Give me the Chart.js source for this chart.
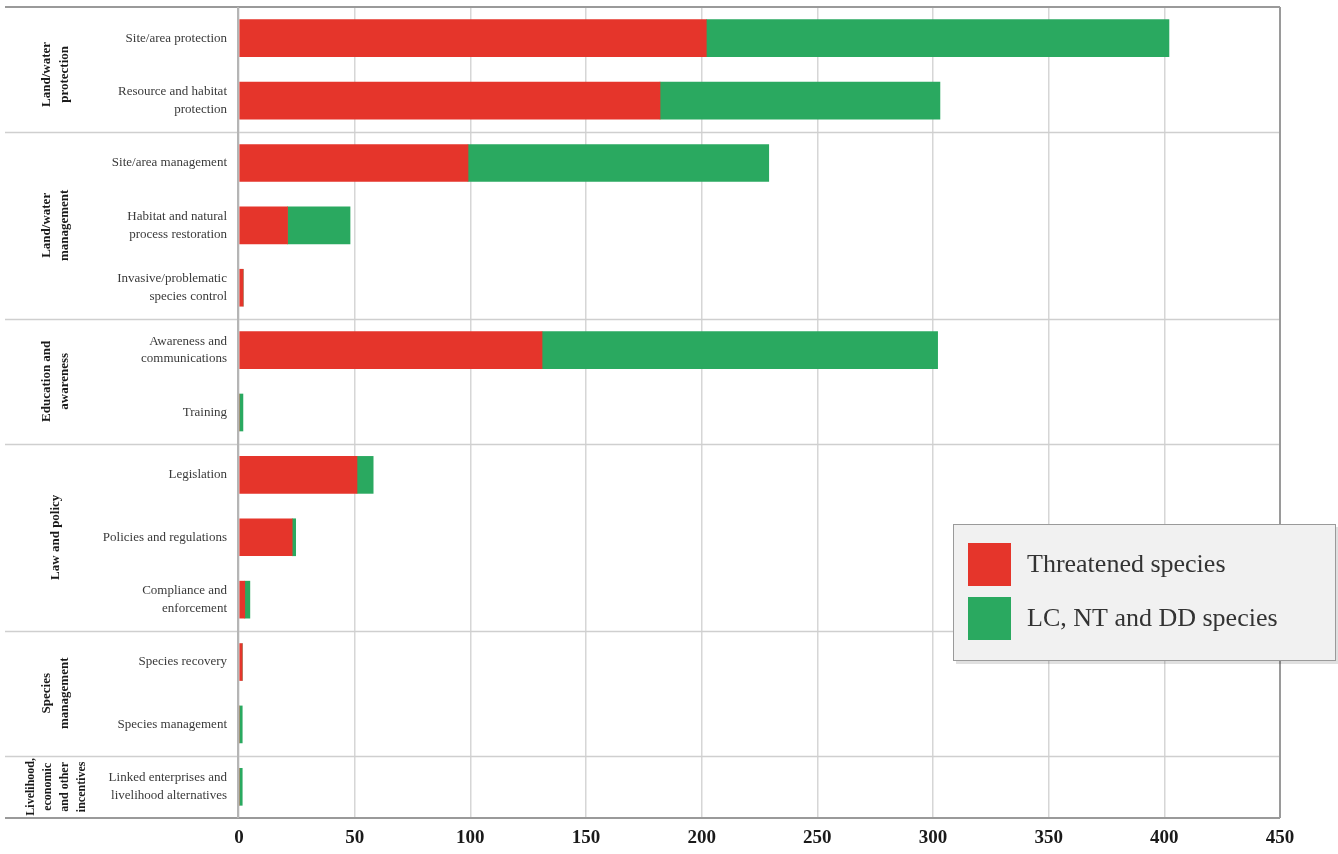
<!DOCTYPE html>
<html>
<head>
<meta charset="utf-8">
<script src="https://cdn.jsdelivr.net/npm/chart.js@4"></script>
<style>
  html, body { margin: 0; padding: 0; background: #fff; }
  #wrap { width: 1338px; height: 854px; }
</style>
</head>
<body>
<div id="wrap"><canvas id="myChart" width="1338" height="854"></canvas></div>
<script>
/* Data */
const categories = [
  ['Site/area protection'],
  ['Resource and habitat', 'protection'],
  ['Site/area management'],
  ['Habitat and natural', 'process restoration'],
  ['Invasive/problematic', 'species control'],
  ['Awareness and', 'communications'],
  ['Training'],
  ['Legislation'],
  ['Policies and regulations'],
  ['Compliance and', 'enforcement'],
  ['Species recovery'],
  ['Species management'],
  ['Linked enterprises and', 'livelihood alternatives']
];
const threatened = [202, 182, 99, 21, 1.8, 131, 0, 51, 23, 2.5, 1.4, 0, 0];
const lcNtDd = [200, 121, 130, 27, 0, 171, 1.7, 7, 1.5, 2.2, 0, 1.4, 1.4];
const seriesNames = ['Threatened species', 'LC, NT and DD species'];
const groupNames = [
  ['Land/water', 'protection'],
  ['Land/water', 'management'],
  ['Education and', 'awareness'],
  ['Law and policy'],
  ['Species', 'management'],
  ['Livelihood,', 'economic', 'and other', 'incentives']
];
const groupSizes = [2, 3, 2, 3, 2, 1];
const xTicks = [0, 50, 100, 150, 200, 250, 300, 350, 400, 450];

const RED = '#e5352b';
const GREEN = '#2aa960';
const SERIF = '"Liberation Serif", "DejaVu Serif", serif';

/* Group labels, separators and frame */
const groupsPlugin = {
  id: 'groups',
  beforeDatasetsDraw(chart) {
    const ctx = chart.ctx;
    const area = chart.chartArea;
    const step = (area.bottom - area.top) / categories.length;
    ctx.save();
    ctx.strokeStyle = '#cfcfcf';
    ctx.lineWidth = 1.5;
    let start = 0;
    groupSizes.forEach(function (size, g) {
      const top = area.top + start * step;
      const bottom = area.top + (start + size) * step;
      if (g > 0) {
        ctx.beginPath();
        ctx.moveTo(5, Math.round(top) + 0.5);
        ctx.lineTo(area.right, Math.round(top) + 0.5);
        ctx.stroke();
      }
      // rotated group label
      const lines = groupNames[g];
      const small = lines.length > 2;
      const lh = small ? 17 : 18;
      ctx.save();
      ctx.translate(56, (top + bottom) / 2 + (g === 0 ? 5 : 0));
      ctx.rotate(-Math.PI / 2);
      ctx.fillStyle = '#1a1a1a';
      ctx.font = 'bold ' + (small ? 12 : 13) + 'px ' + SERIF;
      ctx.textAlign = 'center';
      ctx.textBaseline = 'middle';
      lines.forEach(function (t, i) {
        ctx.fillText(t, 0, (i - (lines.length - 1) / 2) * lh);
      });
      ctx.restore();
      start += size;
    });
    // frame
    ctx.strokeStyle = '#9a9a9a';
    ctx.lineWidth = 2;
    ctx.beginPath();
    ctx.moveTo(5, area.top);
    ctx.lineTo(area.right, area.top);
    ctx.moveTo(5, area.bottom);
    ctx.lineTo(area.right, area.bottom);
    ctx.moveTo(area.right, area.top);
    ctx.lineTo(area.right, area.bottom);
    ctx.stroke();
    ctx.strokeStyle = '#b5b5b5';
    ctx.beginPath();
    ctx.moveTo(area.left - 1, area.top);
    ctx.lineTo(area.left - 1, area.bottom);
    ctx.stroke();
    ctx.restore();
  }
};

/* Boxed legend */
const boxLegend = {
  id: 'boxLegend',
  afterDraw(chart) {
    const ctx = chart.ctx;
    const x = 953, y = 524, w = 383, h = 137;
    ctx.save();
    ctx.fillStyle = 'rgba(0,0,0,0.12)';
    ctx.fillRect(x + 3, y + 3, w, h);
    ctx.fillStyle = '#f1f1f1';
    ctx.fillRect(x, y, w, h);
    ctx.strokeStyle = '#9a9a9a';
    ctx.lineWidth = 1;
    ctx.strokeRect(x + 0.5, y + 0.5, w - 1, h - 1);
    chart.data.datasets.forEach(function (ds, i) {
      const sy = 543 + i * 54;
      ctx.fillStyle = ds.backgroundColor;
      ctx.fillRect(968, sy, 43, 43);
      ctx.fillStyle = '#333';
      ctx.font = '26px ' + SERIF;
      ctx.textBaseline = 'middle';
      ctx.fillText(ds.label, 1027, sy + 22);
    });
    ctx.restore();
  }
};

const ctx = document.getElementById('myChart').getContext('2d');

// eslint-disable-next-line no-undef
const chart = new Chart(ctx, {
  type: 'bar',
  data: {
    labels: categories,
    datasets: [{
      label: seriesNames[0],
      backgroundColor: RED,
      data: threatened,
      barThickness: 37
    },
    {
      label: seriesNames[1],
      backgroundColor: GREEN,
      data: lcNtDd,
      barThickness: 37
    }]
  },
  options: {
    indexAxis: 'y',
    responsive: false,
    animation: false,
    layout: { padding: { top: 7, right: 58, left: 0, bottom: 0 } },
    plugins: {
      legend: { display: false },
      tooltip: { enabled: false }
    },
    scales: {
      x: {
        stacked: true,
        min: 0,
        max: 450,
        afterBuildTicks: function (scale) {
          scale.ticks = xTicks.map(function (v) { return { value: v }; });
        },
        afterFit: function (scale) { scale.height = 36; },
        border: { display: false },
        grid: { color: '#d6d6d6', lineWidth: 1.5, drawTicks: false },
        ticks: {
          padding: 9,
          color: '#1a1a1a',
          font: { family: SERIF, size: 19, weight: 'bold' }
        }
      },
      y: {
        stacked: true,
        afterFit: function (scale) {
          scale.width = 239;
          scale.paddingTop = 0;
          scale.paddingBottom = 0;
        },
        border: { display: false },
        grid: { display: false, drawTicks: false },
        ticks: {
          padding: 12,
          color: '#3a3a3a',
          font: { family: SERIF, size: 13, lineHeight: 1.35 }
        }
      }
    }
  },
  plugins: [groupsPlugin, boxLegend]
});
</script>
</body>
</html>
